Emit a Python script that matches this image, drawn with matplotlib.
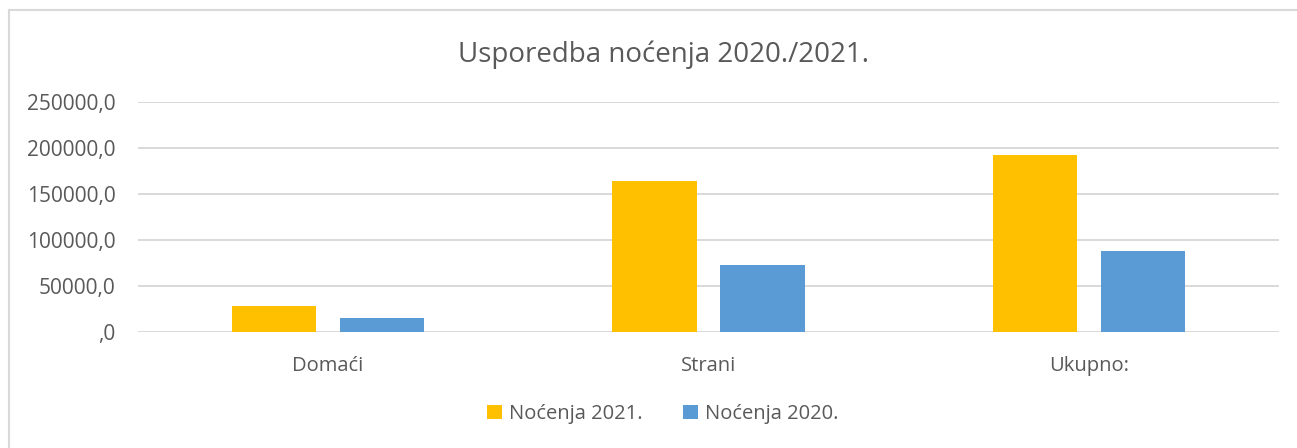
import matplotlib
matplotlib.use("Agg")
import matplotlib.pyplot as plt
from matplotlib.lines import Line2D
import numpy as np

categories = ["Domaći", "Strani", "Ukupno:"]
nocenja_2021 = [28200, 163600, 191800]
nocenja_2020 = [15200, 72600, 87800]
series_labels = ["Noćenja 2021.", "Noćenja 2020."]
yticks = [0, 50000, 100000, 150000, 200000, 250000]
ytick_labels = [",0", "50000,0", "100000,0", "150000,0", "200000,0", "250000,0"]
title = "Usporedba noćenja 2020./2021."

C21 = "#FFC000"
C20 = "#5B9BD5"
TXT = "#595959"
GRID = "#D9D9D9"

plt.rcParams['font.family'] = ['Open Sans', 'DejaVu Sans']

W, H = 1297, 448
fig = plt.figure(figsize=(W / 100, H / 100), dpi=100)
fig.patch.set_facecolor("white")

# chart border (only left and top visible; cropped at right and bottom)
fig.lines.append(Line2D([8.5 / W, 8.5 / W], [0, 1 - 10 / H], transform=fig.transFigure,
                        color=GRID, linewidth=1.5))
fig.lines.append(Line2D([8.5 / W, 1], [1 - 10 / H, 1 - 10 / H], transform=fig.transFigure,
                        color=GRID, linewidth=1.5))

ax = fig.add_axes([137.7 / W, (H - 332.3) / H, 1141.6 / W, 230.6 / H])
x = np.arange(len(categories))
bw = 0.223
off = 0.142
b1 = ax.bar(x - off, nocenja_2021, bw, color=C21, label=series_labels[0], zorder=3)
b2 = ax.bar(x + off, nocenja_2020, bw, color=C20, label=series_labels[1], zorder=3)

ax.set_xlim(-0.5, len(categories) - 0.5)
ax.set_ylim(0, 250000)
ax.set_yticks(yticks)
ax.set_yticklabels(ytick_labels)
ax.set_xticks(x)
ax.set_xticklabels(categories)
ax.grid(axis="y", color=GRID, linewidth=1.4, zorder=0)
ax.set_axisbelow(True)
for s in ax.spines.values():
    s.set_visible(False)
ax.tick_params(axis="both", length=0, labelcolor=TXT)
ax.tick_params(axis="y", pad=16, labelsize=15)
ax.tick_params(axis="x", pad=17, labelsize=14.5)

fig.text(664 / W, 1 - 62 / H, title, ha="center", va="baseline",
         fontsize=20, color=TXT)

leg = fig.legend(handles=[b1, b2], labels=series_labels,
                 loc="center", bbox_to_anchor=(663 / W, 1 - 414 / H),
                 ncol=2, frameon=False, fontsize=14.5,
                 handlelength=0.75, handleheight=0.75, handletextpad=0.35,
                 columnspacing=2.0, labelcolor=TXT)

fig.savefig("out.png", dpi=100, facecolor="white")
